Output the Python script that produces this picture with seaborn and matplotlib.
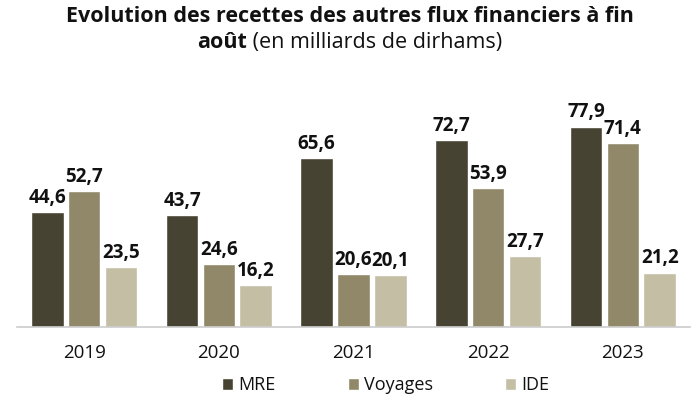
import pandas as pd
import seaborn as sns
import matplotlib.pyplot as plt

# Data
years = ['2019', '2020', '2021', '2022', '2023']
mre = [44.6, 43.7, 65.6, 72.7, 77.9]
voyages = [52.7, 24.6, 20.6, 53.9, 71.4]
ide = [23.5, 16.2, 20.1, 27.7, 21.2]
series = ['MRE', 'Voyages', 'IDE']
colors = ['#4a4530', '#978c62', '#c9c1a0']

df = pd.DataFrame({
    'year': years * 3,
    'value': mre + voyages + ide,
    'serie': [s for s in series for _ in years],
})

sns.set_style('white')
plt.rcParams['font.family'] = ['Open Sans', 'DejaVu Sans']

fig = plt.figure(figsize=(7, 4), dpi=100)
ax = fig.add_axes([0.024, 0.182, 0.962, 0.618])

sns.barplot(data=df, x='year', y='value', hue='serie', palette=colors,
            width=0.82, gap=0.12, ax=ax, legend=True)

# Value labels with a decimal comma
for container in ax.containers:
    labels = [f"{v:.1f}".replace('.', ',') for v in container.datavalues]
    ax.bar_label(container, labels=labels, padding=3, fontsize=13.5,
                 fontweight='bold', color='#111111')

ax.set_ylim(0, 96)
ax.set_xlim(-0.5, 4.5)
ax.set_xlabel('')
ax.set_ylabel('')
ax.set_yticks([])
ax.tick_params(axis='x', labelsize=13.5, length=0, pad=12, labelcolor='#111111')
for s in ['top', 'right', 'left']:
    ax.spines[s].set_visible(False)
ax.spines['bottom'].set_color('#cccccc')
ax.spines['bottom'].set_linewidth(1.2)

ax.legend(loc='center', bbox_to_anchor=(0.548, -0.235), ncol=3, frameon=False,
          fontsize=13, handlelength=0.6, handleheight=0.6, handletextpad=0.3,
          columnspacing=4.0, labelcolor='#111111', borderpad=0.2)

# Title
fig.text(0.5, 0.96, 'Evolution des recettes des autres flux financiers à fin',
         ha='center', va='center', fontsize=15.5, fontweight='bold', color='#111111')
fig.canvas.draw()
r = fig.canvas.get_renderer()
t1 = fig.text(0, 0.893, 'août', ha='left', va='center', fontsize=15.5,
              fontweight='bold', color='#111111')
t2 = fig.text(0, 0.893, ' (en milliards de dirhams)', ha='left', va='center',
              fontsize=15.5, color='#111111')
w1 = t1.get_window_extent(r).width / fig.bbox.width
w2 = t2.get_window_extent(r).width / fig.bbox.width
start = 0.5 - (w1 + w2) / 2
t1.set_x(start)
t2.set_x(start + w1)

fig.savefig('out.png', dpi=100)
